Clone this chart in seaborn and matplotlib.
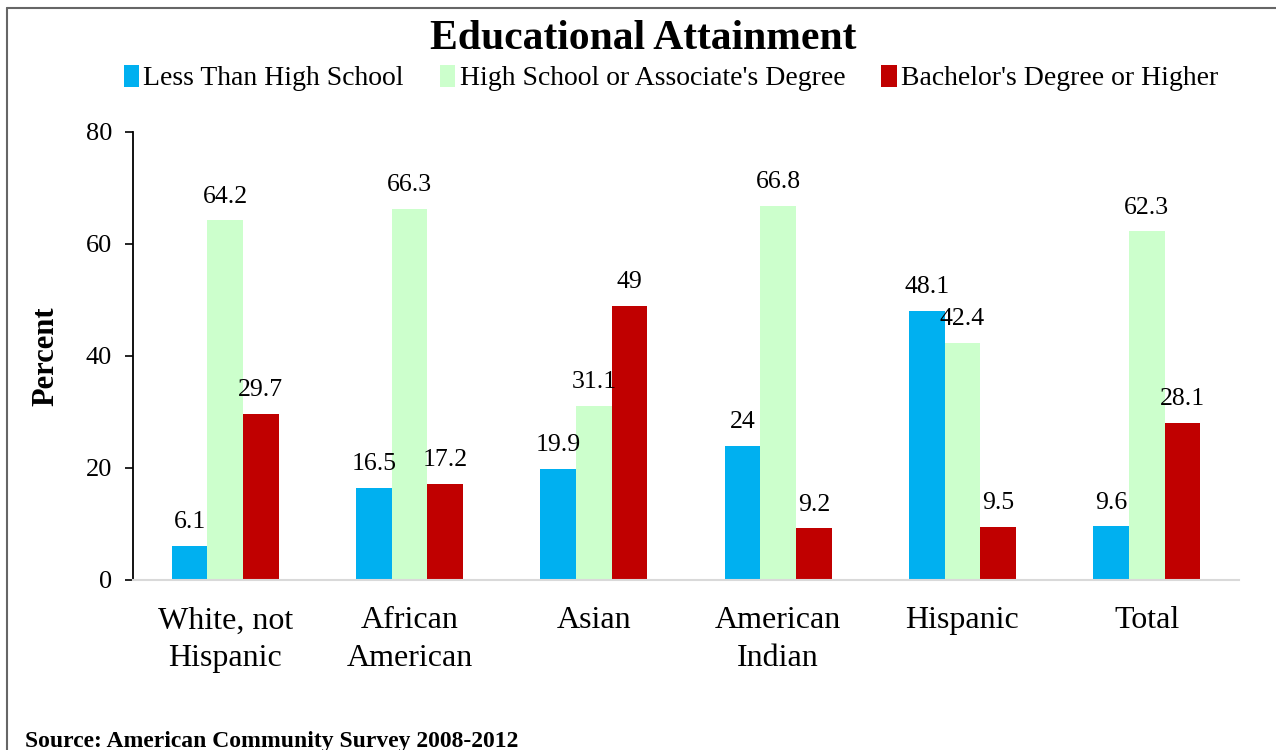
import matplotlib
matplotlib.use("Agg")
import matplotlib.pyplot as plt
from matplotlib.lines import Line2D
import seaborn as sns
import pandas as pd

groups = ["White, not\nHispanic", "African\nAmerican", "Asian",
          "American\nIndian", "Hispanic", "Total"]
levels = ["Less Than High School", "High School or Associate's Degree",
          "Bachelor's Degree or Higher"]
less_than_hs = [6.1, 16.5, 19.9, 24, 48.1, 9.6]
hs_or_assoc = [64.2, 66.3, 31.1, 66.8, 42.4, 62.3]
bachelors_plus = [29.7, 17.2, 49, 9.2, 9.5, 28.1]
colors = ["#00B0F0", "#CCFFCC", "#C00000"]

df = pd.DataFrame({
    "group": groups * 3,
    "level": [levels[0]] * 6 + [levels[1]] * 6 + [levels[2]] * 6,
    "value": less_than_hs + hs_or_assoc + bachelors_plus,
})

sns.set_theme(style="white")
plt.rcParams["font.family"] = ["Liberation Serif", "DejaVu Serif"]
plt.rcParams["text.color"] = "black"
plt.rcParams["axes.labelcolor"] = "black"
plt.rcParams["xtick.color"] = "black"
plt.rcParams["ytick.color"] = "black"

fig = plt.figure(figsize=(12.76, 7.5), dpi=100)
ax = fig.add_axes([133 / 1276, 1 - 580 / 750, (1239 - 133) / 1276, (580 - 132) / 750])

sns.barplot(data=df, x="group", y="value", hue="level", order=groups,
            hue_order=levels, palette=dict(zip(levels, colors)),
            width=0.58, gap=0, saturation=1, errorbar=None,
            linewidth=0, edgecolor="none", ax=ax)

for cont in ax.containers:
    ax.bar_label(cont, fmt="%g", padding=9, fontsize=18.5, color="black")

ax.set_ylim(0, 80)
ax.set_xlim(-0.5, 5.5)
ax.set_yticks([0, 20, 40, 60, 80])
ax.set_xlabel("")
ax.set_ylabel("Percent", fontsize=22, fontweight="bold", labelpad=18)
ax.tick_params(axis="y", which="both", left=True, length=6, width=1.2,
               color="black", labelcolor="black", labelsize=19, pad=9,
               direction="out")
ax.tick_params(axis="x", bottom=False, labelsize=23, pad=13, labelcolor="black")
for lab in ax.get_xticklabels():
    lab.set_linespacing(1.38)

for s in ["top", "right"]:
    ax.spines[s].set_visible(False)
ax.spines["left"].set_color("black")
ax.spines["left"].set_linewidth(1.3)
ax.spines["bottom"].set_color("#D9D9D9")
ax.spines["bottom"].set_linewidth(1.5)

leg = ax.legend(loc="center", bbox_to_anchor=(671 / 1276, 1 - 78 / 750),
                bbox_transform=fig.transFigure, ncol=3, frameon=False,
                fontsize=20, handlelength=0.55, handleheight=0.85,
                handletextpad=0.15, columnspacing=1.3, borderpad=0)
for t in leg.get_texts():
    t.set_color("black")

fig.text(643 / 1276, 1 - 39 / 750, "Educational Attainment", ha="center",
         va="center", fontsize=30, fontweight="bold", color="black")
fig.text(25 / 1276, 1 - 741 / 750, "Source: American Community Survey 2008-2012",
         ha="left", va="center", fontsize=17, fontweight="bold", color="black")

# frame around the figure (top and left edges)
fig.add_artist(Line2D([7 / 1276, 1.0], [1 - 8 / 750, 1 - 8 / 750],
                      transform=fig.transFigure, color="#666666", lw=1.5))
fig.add_artist(Line2D([7 / 1276, 7 / 1276], [0, 1 - 8 / 750],
                      transform=fig.transFigure, color="#666666", lw=1.5))

fig.savefig("out.png", dpi=100)
